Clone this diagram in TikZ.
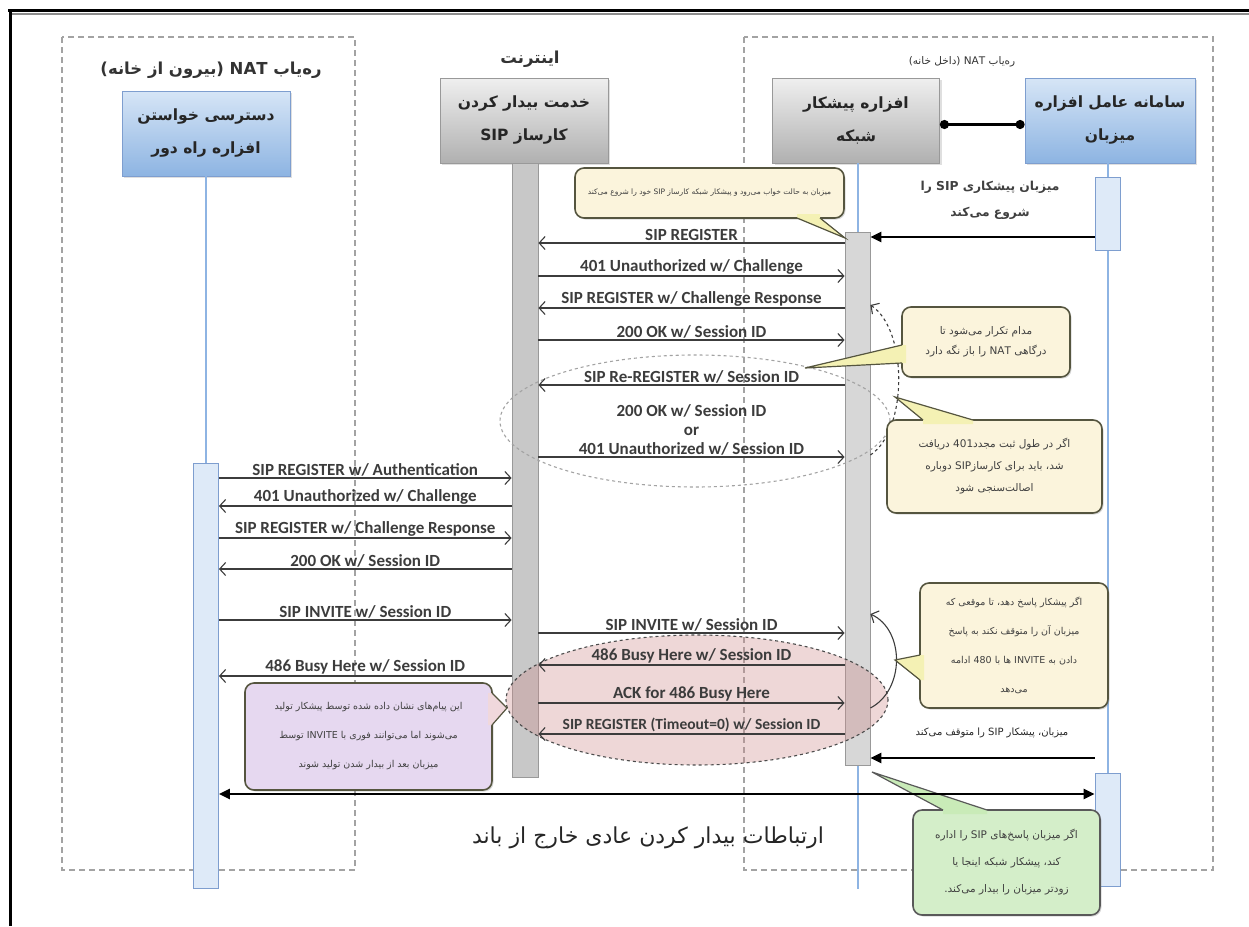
\documentclass[tikz,border=0pt]{standalone}
\usepackage{fontspec}
\setmainfont{Carlito}
\newfontfamily\fa[Script=Arabic]{DejaVu Sans}
\newfontfamily\msgfont{Carlito}
\TeXXeTstate=1
\newcommand\rl[1]{\beginR#1\endR}
\newcommand\lr[1]{\beginL#1\endL{}}
\usetikzlibrary{arrows.meta,shapes.geometric,calc,shadows}
\definecolor{bluetop}{HTML}{D6E5F6}
\definecolor{bluebot}{HTML}{8DB4E2}
\definecolor{blueedge}{HTML}{7E9ECF}
\definecolor{graytop}{HTML}{EFEFEF}
\definecolor{graybot}{HTML}{B0B0B0}
\definecolor{grayedge}{HTML}{999999}
\definecolor{lifeblue}{HTML}{8EB4E3}
\definecolor{msgc}{HTML}{3C3C3C}
\definecolor{beige}{HTML}{FBF4DC}
\definecolor{pointy}{HTML}{F4F1B4}
\definecolor{calledge}{HTML}{55553F}
\definecolor{greenf}{HTML}{D4EEC9}
\definecolor{greenp}{HTML}{C9EBB8}
\definecolor{purplef}{HTML}{E6D8F0}
\definecolor{purplep}{HTML}{F0D8DC}
\definecolor{zonec}{HTML}{A3A3A3}
\definecolor{pinkf}{HTML}{CD8C8C}
\begin{document}
\begin{tikzpicture}[x=1pt,y=-1pt,
  actorblue/.style={draw=blueedge, line width=0.8pt, top color=bluetop, bottom color=bluebot,
    minimum height=85pt, align=center, font=\fa\bfseries\fontsize{15.5}{33}\selectfont, text=black!85,
    drop shadow={opacity=0.25, shadow xshift=2pt, shadow yshift=-2pt}},
  actorgray/.style={actorblue, draw=grayedge, top color=graytop, bottom color=graybot},
  life/.style={draw=lifeblue, line width=2pt},
  barblue/.style={draw=blueedge, line width=0.8pt, fill=bluetop!80, minimum width=25pt, anchor=north, inner sep=0pt},
  bargray/.style={draw=grayedge, line width=0.8pt, fill=graybot!70, minimum width=26pt, anchor=north, inner sep=0pt},
  barlight/.style={draw=grayedge, line width=0.8pt, fill=graytop!90!black, minimum width=25pt, anchor=north, inner sep=0pt},
  zone/.style={draw=zonec, line width=1.4pt, dash pattern=on 6pt off 4pt},
  msg/.style={draw=msgc, line width=1.1pt, -{Straight Barb[length=6pt,width=13pt]}},
  lab/.style={above=0.5pt, inner sep=1pt, text=msgc, font=\msgfont\bfseries\fontsize{17}{19}\selectfont},
  thick arrow/.style={draw=black, line width=2.6pt, -{Triangle[length=11pt,width=10pt]}},
  callout/.style={draw=calledge, line width=1.6pt, rounded corners=9pt, fill=beige, align=center,
    inner sep=0pt, text=black!75, font=\fa\fontsize{10.5}{20}\selectfont,
    drop shadow={opacity=0.3, shadow xshift=1.5pt, shadow yshift=-1.5pt}},
  ptr/.style={draw=calledge, line width=1.2pt},
  fatext/.style={inner sep=0pt, align=center}
]
\useasboundingbox (0,0) rectangle (1249,926);
% frame
\draw[black!45, line width=1.5pt] (12,14) -- (1249,14);
\draw[line width=3pt] (8,10) -- (1249,10);
\draw[line width=3pt] (10,10) -- (10,926);
% zones
\draw[zone] (62,37) rectangle (355,870);
\draw[zone] (744,37) rectangle (1213,870);
% zone labels
\node[fatext, font=\fa\bfseries\fontsize{16.5}{18}\selectfont, text=black!80] (zoneL) at (211,70) {\rl{ره‌یاب \lr{NAT} (بیرون از خانه)}};
\node[fatext, font=\fa\bfseries\fontsize{16.5}{18}\selectfont, text=black!80] (inet) at (530,59) {\rl{اینترنت}};
\node[fatext, font=\fa\fontsize{10.5}{12}\selectfont, text=black!80] (zoneR) at (962,62) {\rl{ره‌یاب \lr{NAT} (داخل خانه)}};
% actor boxes
\node[actorblue, minimum width=168pt] (remote) at (206,133.5) {\rl{دسترسی خواستن}\\\rl{افزاره راه دور}};
\node[actorgray, minimum width=168pt] (server) at (524,120.5) {\rl{خدمت بیدار کردن}\\\rl{کارساز \lr{SIP}}};
\node[actorgray, minimum width=167pt] (proxy) at (856,120.5) {\rl{افزاره پیشکار}\\\rl{شبکه}};
\node[actorblue, minimum width=170pt] (host) at (1110,120.5) {\rl{سامانه عامل افزاره}\\\rl{میزبان}};
% activation bars
\node[barblue, minimum height=425pt] (remotebar) at (206,463) {};
\node[bargray, minimum height=614pt] (netbar) at (525,163) {};
\node[barlight, minimum height=533pt] (proxybar) at (857.5,232) {};
\node[barblue, minimum height=73pt] (hostA) at (1107.5,177) {};
\node[barblue, minimum height=113pt] (hostB) at (1107.5,773) {};
% lifelines
\draw[life] (remote.south) -- (remotebar.north);
\draw[life] (proxybar.north |- proxy.south) -- (proxybar.north);
\draw[life] (proxybar.south) -- ++(0,123);
\draw[life] (hostA.north |- host.south) -- (hostA.north);
\draw[life] (hostA.south) -- (hostB.north);
% proxy-host link
\draw[line width=3pt, {Circle[length=9pt]}-{Circle[length=9pt]}] ([yshift=-4pt]proxy.east) -- ([yshift=-4pt]host.west);
% ellipses
\node[draw=zonec, line width=1.1pt, dashed, ellipse, minimum width=390pt, minimum height=132pt] (ellA) at (695,421) {};
\node[draw=black!70, line width=1.1pt, dashed, ellipse, fill=pinkf, fill opacity=0.35, draw opacity=1, minimum width=382pt, minimum height=130pt] (ellB) at (697,700) {};
% host text
\node[fatext, font=\fa\bfseries\fontsize{12.3}{26}\selectfont, text=black!75] (hosttxt) at (990,200) {\rl{میزبان پیشکاری \lr{SIP} را}\\\rl{شروع می‌کند}};
\node[fatext, font=\fa\fontsize{10}{12}\selectfont, text=black!85] (stoptxt) at (992,733) {\rl{میزبان، پیشکار \lr{SIP} را متوقف می‌کند}};
% messages right
\draw[msg] (proxybar.west |- 0,243) -- node[lab]{SIP REGISTER} (netbar.east |- 0,243);
\draw[msg] (netbar.east |- 0,276) -- node[lab]{401 Unauthorized w/ Challenge} (proxybar.west |- 0,276);
\draw[msg] (proxybar.west |- 0,308) -- node[lab]{SIP REGISTER w/ Challenge Response} (netbar.east |- 0,308);
\draw[msg] (netbar.east |- 0,340) -- node[lab]{200 OK w/ Session ID} (proxybar.west |- 0,340);
\draw[msg] (proxybar.west |- 0,385) -- node[lab]{SIP Re-REGISTER w/ Session ID} (netbar.east |- 0,385);
\draw[msg] (netbar.east |- 0,457) -- node[lab, align=center, font=\msgfont\bfseries\fontsize{17}{19}\selectfont]{200 OK w/ Session ID\\or\\401 Unauthorized w/ Session ID} (proxybar.west |- 0,457);
\draw[msg] (netbar.east |- 0,633) -- node[lab]{SIP INVITE w/ Session ID} (proxybar.west |- 0,633);
\draw[msg] (proxybar.west |- 0,665) -- node[lab]{486 Busy Here w/ Session ID} (netbar.east |- 0,665);
\draw[msg] (netbar.east |- 0,703) -- node[lab]{ACK for 486 Busy Here} (proxybar.west |- 0,703);
\draw[msg] (proxybar.west |- 0,734) -- node[lab, font=\msgfont\bfseries\fontsize{15.5}{19}\selectfont]{SIP REGISTER (Timeout=0) w/ Session ID} (netbar.east |- 0,734);
% messages left
\draw[msg] (remotebar.east |- 0,478) -- node[lab]{SIP REGISTER w/ Authentication} (netbar.west |- 0,478);
\draw[msg] (netbar.west |- 0,506) -- node[lab]{401 Unauthorized w/ Challenge} (remotebar.east |- 0,506);
\draw[msg] (remotebar.east |- 0,538) -- node[lab]{SIP REGISTER w/ Challenge Response} (netbar.west |- 0,538);
\draw[msg] (netbar.west |- 0,569) -- node[lab]{200 OK w/ Session ID} (remotebar.east |- 0,569);
\draw[msg] (remotebar.east |- 0,620) -- node[lab]{SIP INVITE w/ Session ID} (netbar.west |- 0,620);
\draw[msg] (netbar.west |- 0,676) -- node[lab]{486 Busy Here w/ Session ID} (remotebar.east |- 0,676);
% loop arrows
\draw[msg, dashed] (proxybar.east |- 0,455) .. controls (908,430) and (908,330) .. (proxybar.east |- 0,305);
\draw[msg] (proxybar.east |- 0,708) .. controls (905,690) and (905,630) .. (proxybar.east |- 0,614);
% callout 1
\node[callout, minimum width=269pt, minimum height=50pt, font=\fa\fontsize{7.5}{9}\selectfont] (c1) at (709.5,193) {\rl{میزبان به حالت خواب می‌رود و پیشکار شبکه کارساز \lr{SIP} خود را شروع می‌کند}};
\fill[pointy] (797,214) -- (797,218) -- (845,238) -- (820,218) -- (820,214) -- cycle;
\draw[ptr] (797,218) -- (845,238) -- (820,218);
% callout 2
\node[callout, minimum width=168pt, minimum height=70pt] (c2) at (986,342) {\rl{مدام تکرار می‌شود تا}\\\rl{درگاهی \lr{NAT} را باز نگه دارد}};
\fill[pointy] (906,345) -- (902,345) -- (805,368) -- (902,363) -- (906,363) -- cycle;
\draw[ptr] (902,345) -- (805,368) -- (902,363);
% callout 3
\node[callout, minimum width=215pt, minimum height=93pt, font=\fa\fontsize{10.5}{22}\selectfont] (c3) at (994.5,466.5) {\rl{اگر در طول ثبت مجدد\lr{401} دریافت}\\\rl{شد، باید برای کارساز\lr{SIP} دوباره}\\\rl{اصالت‌سنجی شود}};
\fill[pointy] (923,424) -- (923,420) -- (895,397) -- (973,420) -- (973,424) -- cycle;
\draw[ptr] (923,420) -- (895,397) -- (973,420);
% callout 4
\node[callout, minimum width=188pt, minimum height=125pt, font=\fa\fontsize{9.5}{29}\selectfont] (c4) at (1014,645.5) {\rl{اگر پیشکار پاسخ دهد، تا موقعی که}\\\rl{میزبان آن را متوقف نکند به پاسخ}\\\rl{دادن به \lr{INVITE} ها با \lr{480} ادامه}\\\rl{می‌دهد}};
\fill[pointy] (924,655) -- (920,655) -- (895,660) -- (920,680) -- (924,680) -- cycle;
\draw[ptr] (920,655) -- (895,660) -- (920,680);
% callout 6 purple
\node[callout, fill=purplef, minimum width=247pt, minimum height=107pt, font=\fa\fontsize{9.5}{29}\selectfont] (c6) at (368.5,736.5) {\rl{این پیام‌های نشان داده شده توسط پیشکار تولید}\\\rl{می‌شوند اما می‌توانند فوری با \lr{INVITE} توسط}\\\rl{میزبان بعد از بیدار شدن تولید شوند}};
\fill[purplep] (488,693) -- (492,693) -- (507,708) -- (492,725) -- (488,725) -- cycle;
\draw[ptr] (492,693) -- (507,708) -- (492,725);
% callout 5 green
\node[callout, fill=greenf, draw=black!65, minimum width=187pt, minimum height=105pt, font=\fa\fontsize{10.5}{27}\selectfont] (c5) at (1006.5,862.5) {\rl{اگر میزبان پاسخ‌های \lr{SIP} را اداره}\\\rl{کند، پیشکار شبکه اینجا یا}\\\rl{زودتر میزبان را بیدار می‌کند.}};
\fill[greenp] (943,814) -- (943,810) -- (872,772) -- (987,810) -- (987,814) -- cycle;
\draw[ptr, draw=black!65] (943,810) -- (872,772) -- (987,810);
% thick arrows
\draw[thick arrow] (hostA.west |- 0,237) -- (proxybar.east |- 0,237);
\draw[thick arrow] (hostB.west |- 0,758) -- (proxybar.east |- 0,758);
\draw[thick arrow, {Triangle[length=11pt,width=10pt]}-{Triangle[length=11pt,width=10pt]}] (remotebar.east |- 0,794) -- (hostB.west |- 0,794);
% bottom text
\node[fatext, font=\fa\fontsize{22}{24}\selectfont, text=black!85] (oob) at (648,838) {\rl{ارتباطات بیدار کردن عادی خارج از باند}};
\end{tikzpicture}
\end{document}
